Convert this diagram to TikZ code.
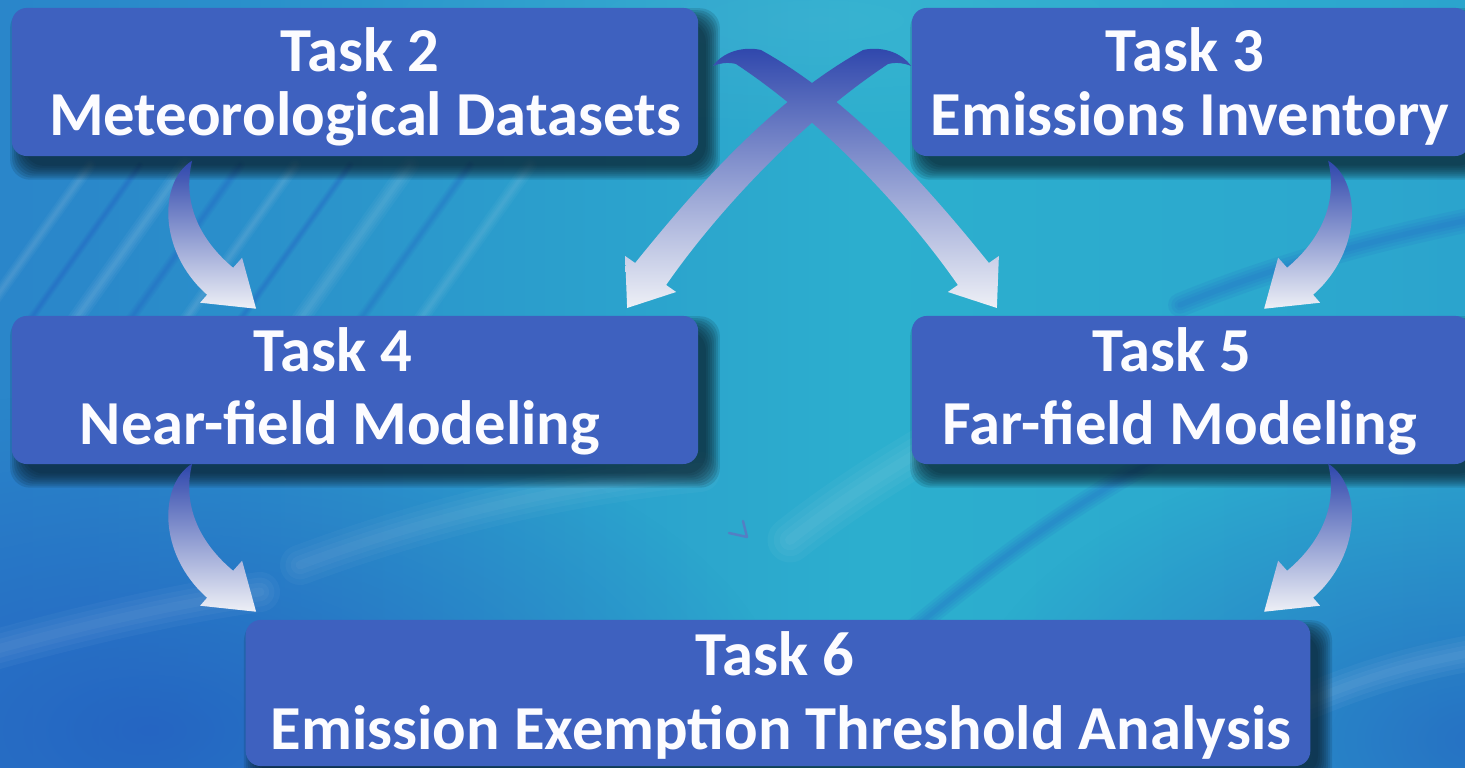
\documentclass[tikz,border=0pt]{standalone}
\usepackage{fontspec}
\setmainfont{Carlito}
\usetikzlibrary{calc,fadings}

\definecolor{boxfill}{RGB}{62,97,191}
\definecolor{boxtext}{RGB}{252,252,255}
\definecolor{shadowink}{RGB}{8,28,40}
\definecolor{arrowdark}{RGB}{46,70,172}
\definecolor{arrowmid}{RGB}{130,140,198}
\definecolor{arrowlight}{RGB}{238,240,246}
\definecolor{bgA}{RGB}{38,114,200}
\definecolor{bgB}{RGB}{42,136,202}
\definecolor{bgC}{RGB}{44,175,206}
\definecolor{bgD}{RGB}{44,168,206}
\definecolor{bgE}{RGB}{40,142,200}
\definecolor{deepblue}{RGB}{36,92,192}
\definecolor{streakdark}{RGB}{34,90,196}
\definecolor{strayink}{RGB}{110,100,190}

% left-to-right wash of the backdrop
\pgfdeclarehorizontalshading{bgwash}{100bp}{color(0bp)=(bgA); color(28bp)=(bgB); color(55bp)=(bgC); color(70bp)=(bgD); color(100bp)=(bgE)}
\tikzfading[name=softspot, inner color=transparent!0, outer color=transparent!100]

\pgfdeclarelayer{backdrop}
\pgfdeclarelayer{shadows}
\pgfsetlayers{backdrop,shadows,main}

\tikzset{
  taskbox/.style={fill=boxfill, rounded corners=0.15cm, inner sep=0pt, minimum height=1.48cm},
  tasktext/.style={text=boxtext, font=\fontsize{17.8}{21}\selectfont\bfseries, anchor=base, inner sep=0pt},
  flowshade/.style={top color=arrowdark, middle color=arrowmid, bottom color=arrowlight},
  pics/bendarrow/.style={code={
    \shade[flowshade] (0,0) .. controls (-33,20) and (-35,90) .. (15,134) -- (8,142) -- (64,148)
      -- (50,97) -- (41,107) .. controls (11,82) and (-11,45) .. cycle;
  }},
  pics/crossarrow/.style={code={
    \shade[flowshade] (0,0) .. controls (10,-14) and (30,-20) .. (48,-16)
      .. controls (138,34) and (213,119) .. (276,197) -- (286,190) -- (284,242)
      -- (235,226) -- (245,219) .. controls (193,144) and (108,54) .. (23,-2)
      .. controls (15,-4) and (7,-3) .. cycle;
  }},
}

% soft drop shadow under a box, built from stacked translucent layers
\newcommand{\boxshadow}[1]{%
  \foreach \e in {-3,-1,1,3,5,7,9,11}{
    \fill[shadowink, opacity=0.14, rounded corners=0.2cm]
      ($(#1.north west)+(10-\e,12-\e)$) rectangle ($(#1.south east)+(10+\e,12+\e)$);
  }}

% soft-edged band: colour, opacity per layer, full width in cm, path
\newcommand{\softband}[4]{%
  \foreach \k in {1,0.72,0.46,0.22}{
    \draw[#1, opacity=#2, line width=\k*#3 cm, line cap=round] #4;
  }}

\begin{document}
\begin{tikzpicture}[x=0.01cm, y=-0.01cm]
\useasboundingbox (0,0) rectangle (1465,768);

% task boxes
\node[taskbox, minimum width=6.86cm] (box2) at (355,82) {};
\node[taskbox, minimum width=5.58cm] (box3) at (1191,82) {};
\node[taskbox, minimum width=6.86cm] (box4) at (355,390) {};
\node[taskbox, minimum width=5.58cm] (box5) at (1191,390) {};
\node[taskbox, minimum width=10.64cm, minimum height=1.46cm] (box6) at (778,693) {};

% box labels
\node[tasktext] (t2a) at (360,72) {Task 2};
\node[tasktext] (t2b) at (365,136) {Meteorological Datasets};
\node[tasktext] (t3a) at (1185,72) {Task 3};
\node[tasktext] (t3b) at (1190,136) {Emissions Inventory};
\node[tasktext] (t4a) at (333,372) {Task 4};
\node[tasktext] (t4b) at (340,445) {Near-field Modeling};
\node[tasktext] (t5a) at (1172,372) {Task 5};
\node[tasktext] (t5b) at (1180,445) {Far-field Modeling};
\node[tasktext] (t6a) at (775,676) {Task 6};
\node[tasktext] (t6b) at (781,750) {Emission Exemption Threshold Analysis};

% arrow tails, fixed on the boxes they leave
\coordinate (tail24) at ($(box2.south west)+(181,4)$);
\coordinate (tail46) at ($(box4.south west)+(181,-1)$);
\coordinate (tail35) at ($(box3.south west)+(417,4)$);
\coordinate (tail56) at ($(box5.south west)+(417,-1)$);
\coordinate (tail25) at ($(box2.east)+(14,-16)$);
\coordinate (tail34) at ($(box3.west)+(0,-16)$);

% curved flow arrows
\pic at (tail24) {bendarrow};
\pic at (tail46) {bendarrow};
\pic[xscale=-1] at (tail35) {bendarrow};
\pic[xscale=-1] at (tail56) {bendarrow};
\pic at (tail25) {crossarrow};
\pic[xscale=-1] at (tail34) {crossarrow};

% shadows under the boxes
\begin{pgfonlayer}{shadows}
  \boxshadow{box2}
  \boxshadow{box3}
  \boxshadow{box4}
  \boxshadow{box5}
  \boxshadow{box6}
\end{pgfonlayer}

% backdrop: blue-teal wash with soft streaks
\begin{pgfonlayer}{backdrop}
  \shade[shading=bgwash] (0,0) rectangle (1465,768);
  \fill[deepblue, opacity=0.8, path fading=softspot] (150,730) ellipse (640 and 340);
  \fill[deepblue, opacity=0.7, path fading=softspot] (1480,740) ellipse (520 and 300);
  \fill[white, opacity=0.06, path fading=softspot] (820,20) ellipse (500 and 120);
  % fine diagonal streaks on the upper left
  \foreach \sx/\col/\op/\w in {-20/white/0.035/0.12, 30/streakdark/0.10/0.08, 75/white/0.04/0.16,
      130/streakdark/0.09/0.10, 185/white/0.035/0.12, 240/streakdark/0.10/0.08,
      300/white/0.035/0.18, 360/streakdark/0.08/0.10, 420/white/0.03/0.14}{
    \softband{\col}{\op}{\w}{(\sx,320) -- ++(110,-155)}
  }
  % sweeping bands on the right and at the bottom
  \softband{streakdark}{0.10}{0.24}
    {(1180,305) .. controls (1270,268) and (1380,236) .. (1520,210)}
  \softband{streakdark}{0.10}{0.20}
    {(900,640) .. controls (990,565) and (1080,495) .. (1220,425)}
  \softband{white}{0.035}{0.45}
    {(790,540) .. controls (860,485) and (930,445) .. (1010,400)}
  \softband{white}{0.04}{0.36}
    {(1300,705) .. controls (1370,675) and (1430,658) .. (1520,645)}
  \softband{white}{0.035}{0.40}
    {(-60,665) .. controls (80,625) and (180,603) .. (260,592)}
  \softband{white}{0.03}{0.40}
    {(300,565) .. controls (420,520) and (560,485) .. (700,472)}
  % small stray tick mark
  \draw[strayink, opacity=0.6, line width=0.025cm, line cap=round, line join=round]
    (729,533) -- (747,537) -- (743,521);
\end{pgfonlayer}
\end{tikzpicture}
\end{document}
